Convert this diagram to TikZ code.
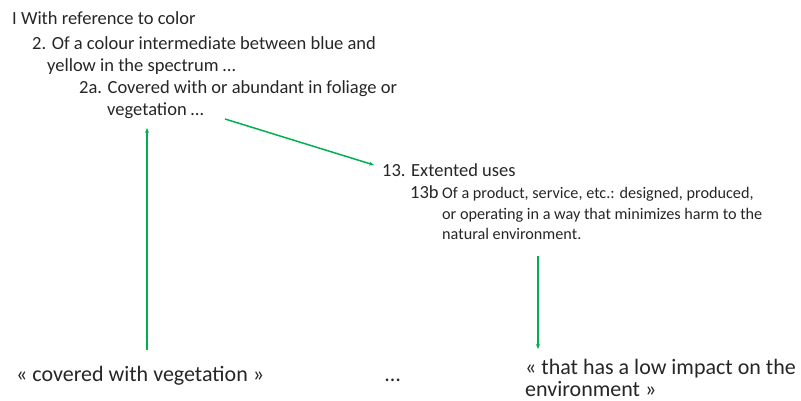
\documentclass[tikz,border=0pt]{standalone}
\usepackage{fontspec}
\setmainfont{Carlito}
\usetikzlibrary{arrows.meta}
\definecolor{leafgreen}{RGB}{0,176,80}
\tikzset{
    line/.style={anchor=base west, inner sep=0pt, text=black!85, font=\fontsize{18.5}{22}\selectfont},
    small/.style={anchor=base west, inner sep=0pt, text=black!85, font=\fontsize{16.2}{19}\selectfont},
    quote/.style={anchor=base west, inner sep=0pt, text=black!85, font=\fontsize{22}{26}\selectfont},
    arr/.style={-{Stealth[length=5pt,width=4pt]}, leafgreen, line width=1.5pt}
}
\begin{document}
\begin{tikzpicture}[x=1pt,y=-1pt]
    \useasboundingbox (0,0) rectangle (801,401);

    % Sense tree, left part
    \node[line] (sense1) at (12,25) {I With reference to color};
    \node[line] (sense2) at (32,50) {2. Of a colour intermediate between blue and};
    \node[line] (sense2b) at (47,72) {yellow in the spectrum \dots};
    \node[line] (sense2a) at (79,94) {2a. Covered with or abundant in foliage or};
    \node[line] (veg) at (107,116) {vegetation \dots};

    % Sense tree, right part
    \node[line] (ext) at (382,177) {13. Extented uses};
    \node[line] (ext13b) at (410,199) {13b};
    \node[small] (def1) at (442,199) {Of a product, service, etc.: designed, produced,};
    \node[small] (def2) at (442,219) {or operating in a way that minimizes harm to the};
    \node[small] (def3) at (442,239) {natural environment.};

    % Glosses
    \node[quote] (covered) at (16,381) {« covered with vegetation »};
    \node[quote] (dots) at (385,381) {\dots};
    \node[quote] (low1) at (525,374) {« that has a low impact on the};
    \node[quote] (low2) at (525,396) {environment »};

    % Arrows
    \coordinate (upstart) at (147,350);
    \coordinate (upend) at (147,128);
    \coordinate (diagstart) at (225,119);
    \coordinate (diagend) at (374,165);
    \coordinate (downstart) at (538,256);
    \coordinate (downend) at (538,349);
    \draw[arr] (upstart) -- (upend);
    \draw[arr] (diagstart) -- (diagend);
    \draw[arr] (downstart) -- (downend);
\end{tikzpicture}
\end{document}
